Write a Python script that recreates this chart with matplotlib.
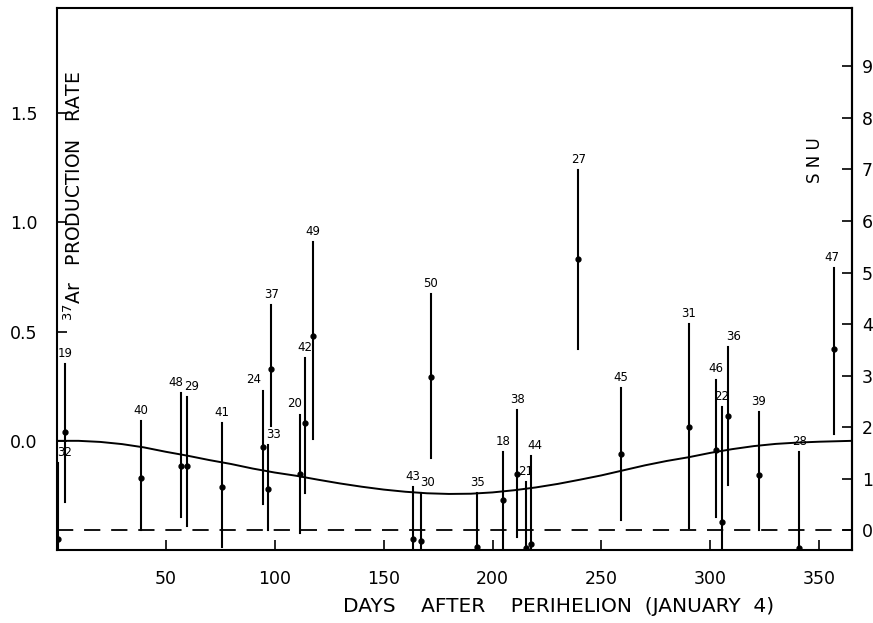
import matplotlib.pyplot as plt

# run numbers, day after perihelion, production rate and error bar ends
runs = ["32", "19", "40", "48", "29", "41", "24", "33", "37", "20", "42", "49",
        "50", "43", "30", "35", "18", "38", "21", "44", "27", "45", "31", "46",
        "22", "36", "39", "28", "47"]
days = [0.5, 4, 38.5, 57, 60, 76, 94.7, 97, 98.4, 111.7, 114, 117.7,
        171.6, 163.3, 167.4, 192.9, 204.8, 211.3, 215.4, 217.7, 239.4, 258.8, 290, 302.5,
        305.3, 308, 322.3, 340.8, 356.9]
rate = [-0.45, 0.04, -0.17, -0.114, -0.114, -0.21, -0.03, -0.22, 0.33, -0.15, 0.08, 0.48,
        0.29, -0.45, -0.46, -0.485, -0.27, -0.15, -0.49, -0.47, 0.83, -0.06, 0.064, -0.04,
        -0.37, 0.115, -0.155, -0.49, 0.42]
rate_hi = [-0.10, 0.35, 0.09, 0.22, 0.20, 0.08, 0.23, -0.02, 0.62, 0.12, 0.38, 0.91,
           0.67, -0.21, -0.24, -0.24, -0.05, 0.14, -0.19, -0.07, 1.24, 0.24, 0.535, 0.28,
           0.155, 0.43, 0.13, -0.05, 0.79]
rate_lo = [-0.6, -0.28, -0.41, -0.35, -0.39, -0.485, -0.29, -0.41, 0.07, -0.42, -0.24, 0.01,
           -0.08, -0.6, -0.6, -0.6, -0.6, -0.44, -0.6, -0.6, 0.42, -0.36, -0.40, -0.35,
           -0.6, -0.20, -0.41, -0.6, 0.03]

# expected seasonal curve
curve_days = [0, 10, 20, 30, 40, 50, 60, 70, 80, 90, 100, 110, 120, 130, 140, 150,
              160, 170, 180, 190, 200, 210, 220, 230, 240, 250, 260, 270, 280, 290,
              300, 310, 320, 330, 340, 350, 365]
curve_rate = [0.0, 0.0, -0.005, -0.015, -0.03, -0.05, -0.068, -0.088, -0.106, -0.127,
              -0.145, -0.16, -0.178, -0.195, -0.21, -0.223, -0.233, -0.24, -0.243,
              -0.242, -0.236, -0.226, -0.213, -0.197, -0.178, -0.158, -0.135, -0.112,
              -0.092, -0.075, -0.055, -0.038, -0.024, -0.014, -0.008, -0.004, 0.0]

x_ticks = [50, 100, 150, 200, 250, 300, 350]
rate_ticks = [0.0, 0.5, 1.0, 1.5]
snu_ticks = list(range(10))

SNU_ZERO = -0.41
SNU_STEP = 0.236

# label nudges in points (run -> dx)
label_dx = {"32": 5, "48": -4, "29": 3, "24": -7, "33": 4, "20": -4, "30": 4,
            "36": 4, "44": 3, "47": -2}


def ToSnu(r):
    return (r - SNU_ZERO) / SNU_STEP


def FromSnu(s):
    return SNU_ZERO + s * SNU_STEP


fig = plt.figure(figsize=(8.73, 6.23), dpi=100)
ax = fig.add_axes([0.065, 0.117, 0.911, 0.870])

ax.plot(curve_days, curve_rate, color="black", linewidth=1.4)
ax.axhline(SNU_ZERO, color="black", linewidth=1.3, dashes=(9, 6))

for run, d, r, hi, lo in zip(runs, days, rate, rate_hi, rate_lo):
    ax.plot([d, d], [lo, hi], color="black", linewidth=1.5)
    ax.plot(d, r, "o", color="black", markersize=3.5)
    ax.annotate(run, (d, hi), xytext=(label_dx.get(run, 0), 3),
                textcoords="offset points", ha="center", va="bottom",
                fontsize=8.5)

ax.set_xlim(0, 365)
ax.set_ylim(-0.5, 1.98)
ax.set_xticks(x_ticks)
ax.set_yticks(rate_ticks)
ax.set_yticklabels([f"{t:.1f}" for t in rate_ticks])
ax.tick_params(direction="in", length=7, width=1.2, labelsize=12.5)
ax.tick_params(axis="x", pad=14)
ax.tick_params(axis="y", pad=14)
for spine in ax.spines.values():
    spine.set_linewidth(1.5)

sec = ax.secondary_yaxis("right", functions=(ToSnu, FromSnu))
sec.set_yticks(snu_ticks)
sec.tick_params(direction="in", length=7, width=1.2, labelsize=12.5, pad=7)
sec.spines["right"].set_linewidth(1.5)

ax.text(8, 1.12, r"$^{37}$Ar   PRODUCTION   RATE", rotation=90,
        ha="center", va="center", fontsize=13.5)
ax.text(348, 1.285, "S N U", rotation=90, ha="center", va="center", fontsize=12)
fig.text(0.64, 0.027, "DAYS    AFTER    PERIHELION  (JANUARY  4)",
         ha="center", va="center", fontsize=14.5)

fig.savefig("out.png", dpi=100)
